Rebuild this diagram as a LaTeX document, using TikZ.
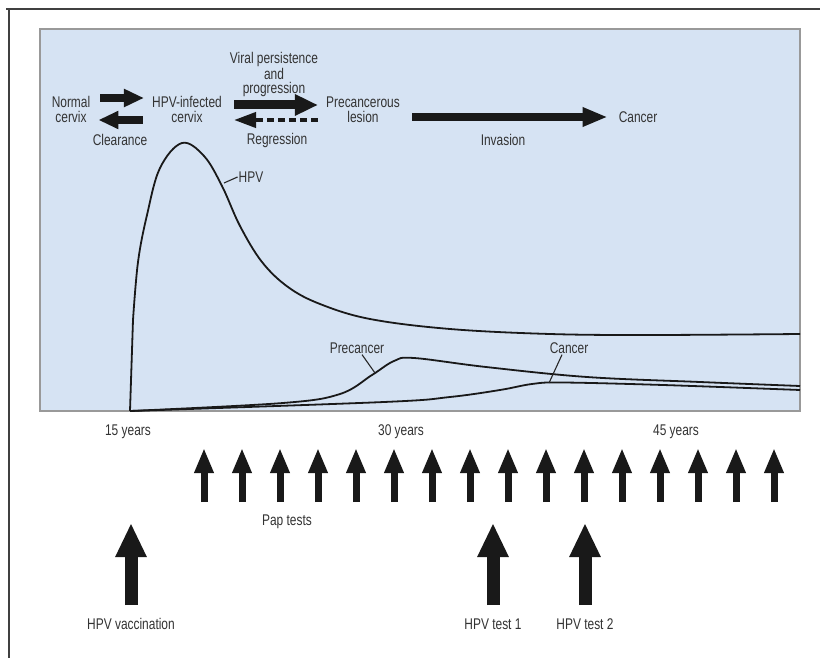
\documentclass[tikz,border=0pt]{standalone}
\usepackage{fontspec}
\setmainfont{Liberation Sans}[FakeStretch=0.77]
\usetikzlibrary{arrows.meta,positioning}
\definecolor{panelblue}{HTML}{D6E3F3}
\definecolor{inktext}{HTML}{333333}

\begin{document}
\begin{tikzpicture}[x=1pt,y=-1pt,
  lbl/.style={font=\fontsize{15.5}{15.5}\selectfont,text=inktext,align=center,inner sep=1pt},
  curve/.style={line width=1.8pt,black!90,line join=round},
  leader/.style={line width=1.1pt,black!85},
  fatarrow/.style={line width=8pt,black!90,-{Triangle[length=20pt,width=17pt]}},
  bigfat/.style={line width=9pt,black!90,-{Triangle[length=23pt,width=20pt]}},
  backarrow/.style={line width=4pt,black!90,dash pattern=on 7pt off 4pt,-{Triangle[length=22pt,width=15pt]}},
  paparrow/.style={line width=7pt,black!90,-{Triangle[length=25pt,width=18pt]}},
  testarrow/.style={line width=13pt,black!90,-{Triangle[length=34pt,width=29pt]}}]
  \useasboundingbox (0,0) rectangle (820,658);
  \fill[white] (0,0) rectangle (820,658);
  % frame and panel
  \draw[line width=2pt,black!75] (6,9) -- (820,9);
  \draw[line width=2pt,black!75] (9,9) -- (9,658);
  \draw[fill=panelblue,draw=black!40,line width=1.4pt] (40,29) rectangle (800,411);

  % stages of infection
  \node[lbl] (normal) at (71,109.5) {Normal\\cervix};
  \node[lbl] (infected) at (187,109.5) {HPV-infected\\cervix};
  \node[lbl,font=\fontsize{15.5}{14}\selectfont] (viral) at (274,74.5) {Viral persistence\\and\\progression};
  \node[lbl] (precancerous) at (363,109.5) {Precancerous\\lesion};
  \node[lbl] (cancer) at (638,117) {Cancer};
  \node[lbl] (clearance) at (120,140) {Clearance};
  \node[lbl] (regression) at (277,140) {Regression};
  \node[lbl] (invasion) at (503,140) {Invasion};

  \draw[fatarrow] ([shift={(9,-11.5)}]normal.east) -- ([shift={(-7,-11.5)}]infected.west);
  \draw[fatarrow] ([shift={(-8,10.5)}]infected.west) -- ([shift={(7,10.5)}]normal.east);
  \draw[bigfat] ([shift={(11,-4.5)}]infected.east) -- ([shift={(-7,-4.5)}]precancerous.west);
  \draw[backarrow] ([shift={(-7,10.5)}]precancerous.west) -- ([shift={(11,10.5)}]infected.east);
  \draw[fatarrow,-{Triangle[length=25pt,width=18pt]}] ([shift={(11,7.5)}]precancerous.east) -- ([xshift=-10]cancer.west);

  % natural history curves
  \draw[curve] (130,411) -- (133,320) plot[smooth,tension=0.6] coordinates {(133,320) (138,262) (147,215)
    (160,168) (182,143) (204,156) (222,186) (240,226) (262,262) (288,287) (320,304)
    (370,319) (450,329) (550,334) (650,335) (800,334)};
  \draw[curve] plot[smooth,tension=0.6] coordinates {(130,411) (283,403) (340,394) (372,375)
    (394,361) (414,358) (486,367) (587,377) (700,382) (800,386)};
  \draw[curve] plot[smooth,tension=0.6] coordinates {(130,411) (384,402) (450,397) (500,390)
    (532,384) (562,382.5) (663,385) (800,390)};

  \node[lbl] (hpvlbl) at (251,177) {HPV};
  \node[lbl] (precancerlbl) at (357,348) {Precancer};
  \node[lbl] (cancerlbl) at (569,348) {Cancer};
  \coordinate (hpvpt) at (224,183);
  \coordinate (precancerpt) at (375,373);
  \coordinate (cancerpt) at (549,383);
  \draw[leader] (hpvlbl.west) -- (hpvpt);
  \draw[leader] ([xshift=5]precancerlbl.south) -- (precancerpt);
  \draw[leader] ([xshift=-7]cancerlbl.south) -- (cancerpt);

  % age axis
  \node[lbl] (age15) at (128,432) {15 years};
  \node[lbl] (age30) at (401,432) {30 years};
  \node[lbl] (age45) at (676,432) {45 years};

  % screening
  \foreach \i in {0,...,15} {
    \coordinate (pap\i b) at (204+38*\i,502);
    \coordinate (pap\i t) at (204+38*\i,448);
    \draw[paparrow] (pap\i b) -- (pap\i t);
  }
  \node[lbl] (paplbl) at (287,522) {Pap tests};

  \foreach \name/\x/\txt in {vacc/131/HPV vaccination, testone/493/HPV test 1, testtwo/585/HPV test 2} {
    \coordinate (\name b) at (\x,605);
    \coordinate (\name t) at (\x,523);
    \draw[testarrow] (\name b) -- (\name t);
    \node[lbl] (\name lbl) at (\x,624) {\txt};
  }
\end{tikzpicture}
\end{document}
